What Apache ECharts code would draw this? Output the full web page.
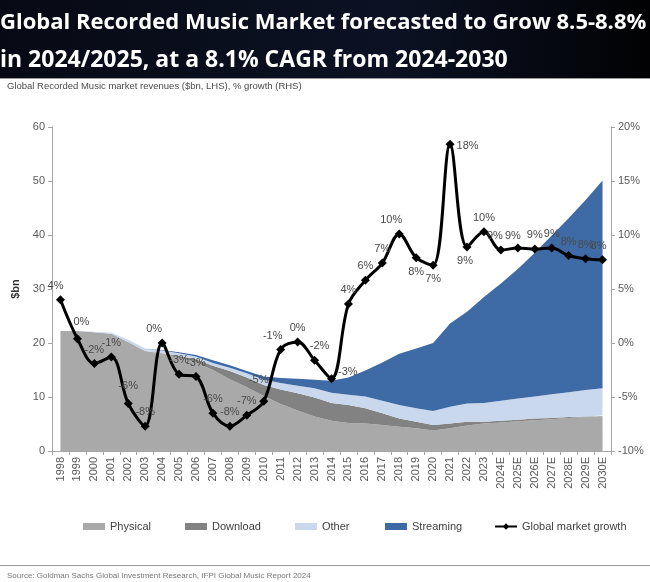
<!DOCTYPE html>
<html><head><meta charset="utf-8">
<script src="https://cdn.jsdelivr.net/npm/echarts@6/dist/echarts.min.js"></script>
<style>html,body{margin:0;padding:0;background:#fff}#c{width:650px;height:582px}</style>
</head><body><div id="c"></div><script>
const categories = ['1998','1999','2000','2001','2002','2003','2004','2005','2006','2007','2008','2009','2010','2011','2012','2013','2014','2015','2016','2017','2018','2019','2020','2021','2022','2023','2024E','2025E','2026E','2027E','2028E','2029E','2030E'];
const physical  = [22.2,22.2,22.0,21.7,20.2,18.5,18.0,17.3,16.4,15.0,13.3,11.8,10.2,8.7,7.5,6.4,5.6,5.2,5.1,4.8,4.5,4.2,3.8,4.2,4.7,5.1,5.3,5.5,5.7,5.9,6.1,6.3,6.5];
const download  = [0,0,0,0,0,0,0.1,0.3,0.6,0.8,1.5,1.8,2.0,2.7,3.2,3.5,3.3,3.3,2.8,2.2,1.5,1.2,1.0,0.9,0.7,0.3,0.3,0.3,0.3,0.2,0.2,0.1,0.1];
const other     = [0,0,0.1,0.2,0.4,0.5,0.5,0.5,0.5,0.5,0.6,0.8,1.0,1.2,1.4,1.7,1.9,1.9,2.2,2.3,2.5,2.5,2.6,3.1,3.4,3.5,3.7,3.9,4.1,4.4,4.6,4.9,5.0];
const streaming = [0,0,0,0,0,0,0.1,0.2,0.3,0.5,0.5,0.4,0.6,0.9,1.3,1.6,2.2,3.2,4.8,7.1,9.5,11.1,12.6,15.4,17.0,19.6,21.7,24.0,26.6,29.4,32.2,35.2,38.5];
const growth    = [4.0,0.4,-1.9,-1.3,-5.6,-7.7,0.0,-2.9,-3.1,-6.5,-7.7,-6.7,-5.4,-0.6,0.1,-1.6,-3.3,3.6,5.8,7.4,10.1,7.9,7.2,18.4,8.9,10.3,8.6,8.8,8.7,8.8,8.1,7.8,7.7];
const leftTicks = [0,10,20,30,40,50,60];
const rightTicks = [-10,-5,0,5,10,15,20];

const FONT = "'Liberation Sans', Arial, sans-serif";
const NARROW = "'Liberation Sans Narrow', 'Liberation Sans', Arial, sans-serif";
const C_PHYS = '#a9a9a9', C_DL = '#828282', C_OTH = '#c9d8ec', C_STR = '#3e6aa6';

// label placement per point index (styling)
const labelPlace = {
  0:{position:'top',offset:[-5,0]},
  1:{position:'top',offset:[4,-3]},
  4:{position:'top',offset:[0,-4]},
  12:{position:'top',offset:[-5,-7]},
  13:{position:'top',offset:[-8,0]},
  6:{position:'top',offset:[-8,0]},
  15:{position:'top',offset:[5,0]},
  16:{position:'right',offset:[-2,-7]},
  20:{position:'top',offset:[-8,0]},
  21:{position:'bottom'},
  22:{position:'bottom'},
  23:{position:'right',offset:[-2,2]},
  24:{position:'bottom',offset:[-2,0]},
  26:{position:'top',offset:[-6,0]},
  27:{position:'top',offset:[-5,2]},
  32:{position:'top',offset:[-4,0]}
};
const growthData = growth.map((v,i)=>{
  const o = {value:v};
  if (labelPlace[i]) o.label = labelPlace[i];
  return o;
});

const chart = echarts.init(document.getElementById('c'));
const areaSeries = (name, data, color) => ({
  name, type:'line', stack:'rev', data, symbol:'none', smooth:false,
  lineStyle:{width:0, color}, itemStyle:{color}, areaStyle:{color, opacity:1}, z:2
});
const legendItem = (name, left, icon) => ({
  data:[name], left, top:521, icon, itemWidth:22, itemHeight:7, padding:0,
  textStyle:{fontSize:11, color:'#404040', fontFamily:NARROW}, selectedMode:false
});
chart.setOption({
  animation:false,
  backgroundColor:'#fff',
  graphic:[
    {type:'rect', shape:{x:0,y:0,width:650,height:78}, style:{fill:new echarts.graphic.LinearGradient(0,0,1,0,[{offset:0,color:'#070a14'},{offset:0.6,color:'#0c1224'},{offset:1,color:'#020204'}])}, z:-1},
    {type:'rect', shape:{x:0,y:78,width:650,height:1}, style:{fill:'#9a9a9a'}},
    {type:'rect', shape:{x:0,y:565,width:650,height:1}, style:{fill:'#9a9a9a'}}
  ],
  title:[
    {text:'Global Recorded Music Market forecasted to Grow 8.5-8.8%', left:0, top:12, textStyle:{color:'#fff', fontSize:22, fontWeight:'bold', fontFamily:"'Open Sans', sans-serif"}, padding:0},
    {text:'in 2024/2025, at a 8.1% CAGR from 2024-2030', left:0, top:49, textStyle:{color:'#fff', fontSize:23, fontWeight:'bold', fontFamily:"'Open Sans', sans-serif"}, padding:0},
    {text:'Global Recorded Music market revenues ($bn, LHS), % growth (RHS)', left:7, top:81, textStyle:{color:'#4a4a4a', fontSize:9.5, fontWeight:'normal', fontFamily:NARROW}, padding:0},
    {text:'Source: Goldman Sachs Global Investment Research, IFPI Global Music Report 2024', left:7, top:572, textStyle:{color:'#777', fontSize:8, fontWeight:'normal', fontFamily:NARROW}, padding:0}
  ],
  legend:[
    legendItem('Physical',83,'rect'),
    legendItem('Download',185,'rect'),
    legendItem('Other',295,'rect'),
    legendItem('Streaming',385,'rect'),
    {data:['Global market growth'], left:494, top:521, itemWidth:22, itemHeight:8, padding:0,
     textStyle:{fontSize:11, color:'#404040', fontFamily:NARROW}, selectedMode:false}
  ],
  grid:{left:52, right:39, top:127, bottom:131, containLabel:false},
  xAxis:{type:'category', data:categories, boundaryGap:true,
    axisLine:{lineStyle:{color:'#a6a6a6'}},
    axisTick:{show:true, alignWithLabel:false, interval:0, length:4, lineStyle:{color:'#a6a6a6'}},
    axisLabel:{rotate:90, interval:0, fontSize:11, color:'#595959', margin:6, fontFamily:FONT}
  },
  yAxis:[
    {type:'value', min:leftTicks[0], max:leftTicks[leftTicks.length-1], interval:10, position:'left',
     axisLine:{show:true, lineStyle:{color:'#a6a6a6'}}, axisTick:{show:true, length:4, lineStyle:{color:'#a6a6a6'}},
     splitLine:{show:false}, axisLabel:{fontSize:11, color:'#595959', margin:7, fontFamily:FONT},
     name:'$bn', nameLocation:'middle', nameGap:27, nameRotate:90,
     nameTextStyle:{fontWeight:'bold', fontSize:11, color:'#333', fontFamily:FONT}},
    {type:'value', min:rightTicks[0], max:rightTicks[rightTicks.length-1], interval:5, position:'right',
     axisLine:{show:true, lineStyle:{color:'#a6a6a6'}}, axisTick:{show:true, length:4, lineStyle:{color:'#a6a6a6'}},
     splitLine:{show:false}, axisLabel:{fontSize:11, color:'#595959', margin:7, fontFamily:FONT, formatter:'{value}%'}}
  ],
  series:[
    areaSeries('Physical', physical, C_PHYS),
    areaSeries('Download', download, C_DL),
    areaSeries('Other', other, C_OTH),
    areaSeries('Streaming', streaming, C_STR),
    {name:'Global market growth', type:'line', yAxisIndex:1, data:growthData, smooth:0.35,
     symbol:'diamond', symbolSize:9, z:5,
     lineStyle:{color:'#000', width:3}, itemStyle:{color:'#000'},
     label:{show:true, position:'top', distance:4, fontSize:11, color:'#4a4a4a', fontFamily:FONT,
       formatter:p=>{const r=Math.round(p.value); return (r===0?0:r)+'%';}}
    }
  ]
});
</script></body></html>
